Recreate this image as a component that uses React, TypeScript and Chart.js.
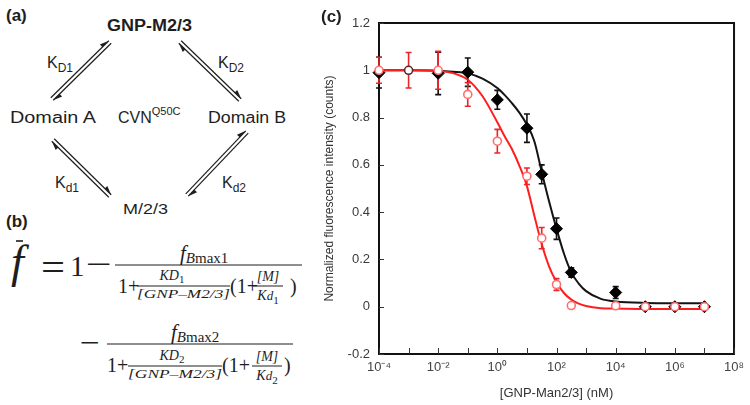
import React, { useEffect, useRef } from 'react';
import { Chart, registerables } from 'chart.js';

Chart.register(...registerables);

// ---------- data ----------
const redX = [1e-4, 1e-3, 1e-2, 1e-1, 1, 10, 31.6, 100, 316, 1e4, 1e5, 1e6, 1e7];
const redY = [1.0, 1.0, 1.0, 0.898, 0.70, 0.552, 0.29, 0.094, 0.005, 0.004, 0.0, 0.0, 0.0];
const redErr = [0.055, 0.075, 0.08, 0.05, 0.05, 0.035, 0.045, 0.025, 0.01, 0.008, 0.006, 0.006, 0.006];

const blackX = [1e-4, 1e-2, 1e-1, 1, 10, 31.6, 100, 316, 1e4, 1e5, 1e6, 1e7];
const blackY = [0.99, 0.987, 0.992, 0.875, 0.755, 0.56, 0.33, 0.145, 0.06, 0.0, 0.0, 0.0];
const blackErr = [0.065, 0.09, 0.06, 0.04, 0.06, 0.04, 0.045, 0.02, 0.025, 0.008, 0.008, 0.008];

const curveX = [1e-4, 1e-3, 1e-2, 0.0316, 0.1, 0.316, 1, 1.78, 3.16, 5.62, 10, 17.8, 31.6, 56.2, 100, 178, 316, 562, 1000, 3162, 1e4, 1e5, 1e6, 1e7];
const blackCurve = [1.0, 1.0, 0.998, 0.994, 0.987, 0.965, 0.925, 0.895, 0.86, 0.82, 0.77, 0.70, 0.57, 0.445, 0.33, 0.225, 0.145, 0.098, 0.066, 0.033, 0.022, 0.016, 0.015, 0.015];
const redCurve = [1.0, 1.0, 0.997, 0.988, 0.96, 0.89, 0.78, 0.72, 0.665, 0.595, 0.51, 0.385, 0.265, 0.17, 0.105, 0.058, 0.03, 0.013, 0.003, -0.006, -0.008, -0.01, -0.01, -0.01];

const xTickValues = [1e-4, 1e-3, 1e-2, 1e-1, 1, 10, 100, 1e3, 1e4, 1e5, 1e6, 1e7, 1e8];
const xTickLabels = ['10\u207B\u2074', '', '10\u207B\u00B2', '', '10\u2070', '', '10\u00B2', '', '10\u2074', '', '10\u2076', '', '10\u2078'];
const yTickLabels = ['-0.2', '0', '0.2', '0.4', '0.6', '0.8', '1', '1.2'];

const SANS = "'Liberation Sans', Arial, Helvetica, sans-serif";
const SERIF = "'Liberation Serif', 'Times New Roman', serif";
const INK = '#1e1e1e';

function FluorChart() {
  const ref = useRef<HTMLCanvasElement>(null);
  useEffect(() => {
    const canvas = ref.current;
    if (!canvas) return;

    const errorBars = {
      id: 'errorBars',
      beforeDatasetsDraw(chart: any) {
        const { ctx, scales } = chart;
        const sx = scales.x, sy = scales.y;
        const sets = [
          { xs: blackX, ys: blackY, es: blackErr, color: '#111' },
          { xs: redX, ys: redY, es: redErr, color: '#e8262a' },
        ];
        ctx.save();
        ctx.lineWidth = 1.6;
        for (const s of sets) {
          ctx.strokeStyle = s.color;
          s.xs.forEach((xv: number, i: number) => {
            const px = sx.getPixelForValue(xv);
            const top = sy.getPixelForValue(s.ys[i] + s.es[i]);
            const bot = sy.getPixelForValue(s.ys[i] - s.es[i]);
            ctx.beginPath();
            ctx.moveTo(px, top); ctx.lineTo(px, bot);
            ctx.moveTo(px - 3, top); ctx.lineTo(px + 3, top);
            ctx.moveTo(px - 3, bot); ctx.lineTo(px + 3, bot);
            ctx.stroke();
          });
        }
        ctx.restore();
      },
    };

    const frame = {
      id: 'frame',
      beforeDatasetsDraw(chart: any) {
        const { ctx, chartArea: a, scales } = chart;
        ctx.save();
        ctx.strokeStyle = '#111';
        ctx.lineWidth = 2;
        ctx.strokeRect(a.left, a.top, a.right - a.left, a.bottom - a.top);
        ctx.lineWidth = 1;
        ctx.strokeStyle = '#333';
        ctx.beginPath();
        scales.y.ticks.forEach((t: any) => {
          const py = Math.round(scales.y.getPixelForValue(t.value)) + 0.5;
          ctx.moveTo(a.left, py); ctx.lineTo(a.left + 5, py);
        });
        xTickValues.forEach((v) => {
          const px = Math.round(scales.x.getPixelForValue(v)) + 0.5;
          ctx.moveTo(px, a.bottom); ctx.lineTo(px, a.bottom - 6);
        });
        ctx.stroke();
        ctx.restore();
      },
    };

    const chart = new Chart(canvas, {
      type: 'scatter',
      data: {
        datasets: [
          {
            label: 'GNP-Man3 data',
            data: redX.map((x, i) => ({ x, y: redY[i] })),
            pointStyle: 'circle',
            pointRadius: 4,
            pointBackgroundColor: '#ffffff',
            pointBorderColor: (c: any) => (c.dataIndex === 1 ? '#5a2626' : '#ff6e6e'),
            pointBorderWidth: 1.6,
            showLine: false,
            clip: false,
          },
          {
            label: 'GNP-Man2 data',
            data: blackX.map((x, i) => ({ x, y: blackY[i] })),
            pointStyle: 'rectRot',
            pointRadius: 6,
            pointBackgroundColor: '#000',
            pointBorderColor: '#000',
            pointBorderWidth: 1,
            showLine: false,
            clip: false,
          },
          {
            label: 'GNP-Man3 fit',
            data: curveX.map((x, i) => ({ x, y: redCurve[i] })),
            showLine: true,
            borderColor: '#ff1e1e',
            borderWidth: 2,
            pointRadius: 0,
            cubicInterpolationMode: 'monotone',
          },
          {
            label: 'GNP-Man2 fit',
            data: curveX.map((x, i) => ({ x, y: blackCurve[i] })),
            showLine: true,
            borderColor: '#141414',
            borderWidth: 2,
            pointRadius: 0,
            cubicInterpolationMode: 'monotone',
          },
        ],
      } as any,
      options: {
        responsive: false,
        animation: false,
        devicePixelRatio: 1,
        layout: { padding: { left: 0, right: 15, top: 23, bottom: 0 } },
        plugins: { legend: { display: false }, tooltip: { enabled: false } },
        scales: {
          x: {
            type: 'logarithmic',
            min: 1e-4,
            max: 1e8,
            afterBuildTicks: (s: any) => { s.ticks = xTickValues.map((v) => ({ value: v })); },
            afterFit: (s: any) => { s.height = 51; },
            grid: { display: false, drawTicks: false },
            border: { display: false },
            ticks: {
              autoSkip: false, maxRotation: 0, minRotation: 0, padding: 6,
              color: '#444', font: { size: 13, family: SANS },
              callback: (_v: any, i: number) => xTickLabels[i],
            },
            title: {
              display: true, text: '[GNP-Man2/3] (nM)', color: '#333',
              font: { size: 13, family: SANS }, padding: { top: 0, bottom: 4 },
            },
          },
          y: {
            min: -0.2,
            max: 1.2,
            afterFit: (s: any) => { s.width = 69; },
            grid: { display: false, drawTicks: false },
            border: { display: false },
            ticks: {
              stepSize: 0.2, padding: 9, color: '#3a3a3a', font: { size: 13, family: SANS },
              callback: (_v: any, i: number) => yTickLabels[i],
            },
            title: {
              display: true, text: 'Normalized fluorescence intensity (counts)', color: '#333',
              font: { size: 12, family: SANS }, padding: { top: 12, bottom: 0 },
            },
          },
        },
      } as any,
      plugins: [frame, errorBars],
    });
    return () => chart.destroy();
  }, []);
  return (
    <canvas ref={ref} width={440} height={405}
      style={{ position: 'absolute', left: 310, top: 0, width: 440, height: 405 }} />
  );
}

function EqArrow({ x1, y1, x2, y2 }: { x1: number; y1: number; x2: number; y2: number }) {
  const dx = x2 - x1, dy = y2 - y1, len = Math.hypot(dx, dy);
  const ux = dx / len, uy = dy / len;
  const lx = uy, ly = -ux;
  const o = 1.7, hl = 9, hw = 3.6;
  const f1 = [x1 + lx * o, y1 + ly * o], f2 = [x2 + lx * o, y2 + ly * o];
  const b1 = [x1 - lx * o, y1 - ly * o], b2 = [x2 - lx * o, y2 - ly * o];
  const headF = `${f2[0]},${f2[1]} ${f2[0] - ux * hl + lx * hw},${f2[1] - uy * hl + ly * hw} ${f2[0] - ux * hl},${f2[1] - uy * hl}`;
  const headB = `${b1[0]},${b1[1]} ${b1[0] + ux * hl - lx * hw},${b1[1] + uy * hl - ly * hw} ${b1[0] + ux * hl},${b1[1] + uy * hl}`;
  return (
    <g>
      <line x1={f1[0]} y1={f1[1]} x2={f2[0]} y2={f2[1]} stroke={INK} strokeWidth={1.2} />
      <line x1={b1[0]} y1={b1[1]} x2={b2[0]} y2={b2[1]} stroke={INK} strokeWidth={1.2} />
      <polygon points={headF} fill={INK} />
      <polygon points={headB} fill={INK} />
    </g>
  );
}

function LeftPanels() {
  const sa = 'spacingAndGlyphs';
  return (
    <svg width={330} height={405} style={{ position: 'absolute', left: 0, top: 0 }}>
      <g fontFamily={SANS} fill={INK}>
        <text x={6} y={21} fontSize={17} fontWeight="bold">(a)</text>
        <text x={107} y={31} fontSize={16} fontWeight="bold" textLength={85} lengthAdjust={sa}>GNP-M2/3</text>
        <text x={47} y={68} fontSize={16}>K<tspan fontSize={12} dy={4}>D1</tspan></text>
        <text x={218} y={68} fontSize={16}>K<tspan fontSize={12} dy={4}>D2</tspan></text>
        <text x={10} y={123} fontSize={16} textLength={86} lengthAdjust={sa}>Domain A</text>
        <text x={118} y={123} fontSize={16}>CVN<tspan fontSize={11} dy={-8}>Q50C</tspan></text>
        <text x={208} y={123} fontSize={16} textLength={78} lengthAdjust={sa}>Domain B</text>
        <text x={55} y={188} fontSize={16}>K<tspan fontSize={12} dy={4}>d1</tspan></text>
        <text x={222} y={188} fontSize={16}>K<tspan fontSize={12} dy={4}>d2</tspan></text>
        <text x={123} y={214} fontSize={15} textLength={45} lengthAdjust={sa}>M/2/3</text>
        <text x={6} y={227} fontSize={17} fontWeight="bold">(b)</text>
      </g>
      <EqArrow x1={52} y1={99} x2={110} y2={42} />
      <EqArrow x1={180} y1={42} x2={240} y2={100} />
      <EqArrow x1={53} y1={140} x2={110} y2={196} />
      <EqArrow x1={187} y1={195} x2={247} y2={132} />
      <g fontFamily={SERIF} fill={INK}>
        <text x={11} y={277} fontSize={46} fontStyle="italic">f</text>
        <line x1={16} y1={241} x2={23} y2={241} stroke={INK} strokeWidth={1.6} />
        <text x={41} y={281} fontSize={40} textLength={24} lengthAdjust={sa}>=</text>
        <text x={70} y={276} fontSize={29}>1</text>
        <text x={86} y={274} fontSize={30} textLength={26} lengthAdjust={sa}>{'\u2212'}</text>

        <text x={180} y={260} fontSize={21} fontStyle="italic">f<tspan fontSize={15} dy={3}>B</tspan><tspan fontSize={15} fontStyle="normal">max1</tspan></text>
        <line x1={115} y1={265} x2={302} y2={265} stroke={INK} strokeWidth={1.2} />
        <text x={118} y={293} fontSize={20}>1+</text>
        <text x={172} y={280} fontSize={14} fontStyle="italic" textAnchor="middle">KD<tspan fontSize={11} fontStyle="normal" dy={3}>1</tspan></text>
        <line x1={137} y1={286} x2={230} y2={286} stroke={INK} strokeWidth={1} />
        <text x={137} y={298} fontSize={13} fontStyle="italic" textLength={93} lengthAdjust={sa}>[GNP{'\u2013'}M2/3]</text>
        <text x={230} y={293} fontSize={20}>(1+</text>
        <text x={268} y={281} fontSize={14} fontStyle="italic" textAnchor="middle">[M]</text>
        <line x1={253} y1={286} x2={283} y2={286} stroke={INK} strokeWidth={1} />
        <text x={268} y={300} fontSize={14} fontStyle="italic" textAnchor="middle">K<tspan fontSize={13}>d</tspan><tspan fontSize={11} fontStyle="normal" dy={4}>1</tspan></text>
        <text x={290} y={293} fontSize={20}>)</text>

        <text x={80} y={352} fontSize={28} textLength={20} lengthAdjust={sa}>{'\u2212'}</text>
        <text x={171} y={339} fontSize={21} fontStyle="italic">f<tspan fontSize={15} dy={3}>B</tspan><tspan fontSize={15} fontStyle="normal">max2</tspan></text>
        <line x1={107} y1={344} x2={293} y2={344} stroke={INK} strokeWidth={1.2} />
        <text x={107} y={372} fontSize={20}>1+</text>
        <text x={172} y={360} fontSize={14} fontStyle="italic" textAnchor="middle">KD<tspan fontSize={11} fontStyle="normal" dy={3}>2</tspan></text>
        <line x1={128} y1={366} x2={222} y2={366} stroke={INK} strokeWidth={1} />
        <text x={128} y={378} fontSize={13} fontStyle="italic" textLength={94} lengthAdjust={sa}>[GNP{'\u2013'}M2/3]</text>
        <text x={222} y={372} fontSize={20}>(1+</text>
        <text x={267} y={361} fontSize={14} fontStyle="italic" textAnchor="middle">[M]</text>
        <line x1={252} y1={366} x2={282} y2={366} stroke={INK} strokeWidth={1} />
        <text x={267} y={380} fontSize={14} fontStyle="italic" textAnchor="middle">K<tspan fontSize={13}>d</tspan><tspan fontSize={11} fontStyle="normal" dy={4}>2</tspan></text>
        <text x={284} y={372} fontSize={20}>)</text>
      </g>
    </svg>
  );
}

export default function App() {
  return (
    <div style={{ position: 'absolute', left: 0, top: 0, width: 750, height: 405, background: '#fff', overflow: 'hidden' }}>
      <LeftPanels />
      <FluorChart />
      <div style={{ position: 'absolute', left: 321, top: 7, fontFamily: SANS, fontWeight: 'bold', fontSize: 17, color: INK }}>(c)</div>
    </div>
  );
}
